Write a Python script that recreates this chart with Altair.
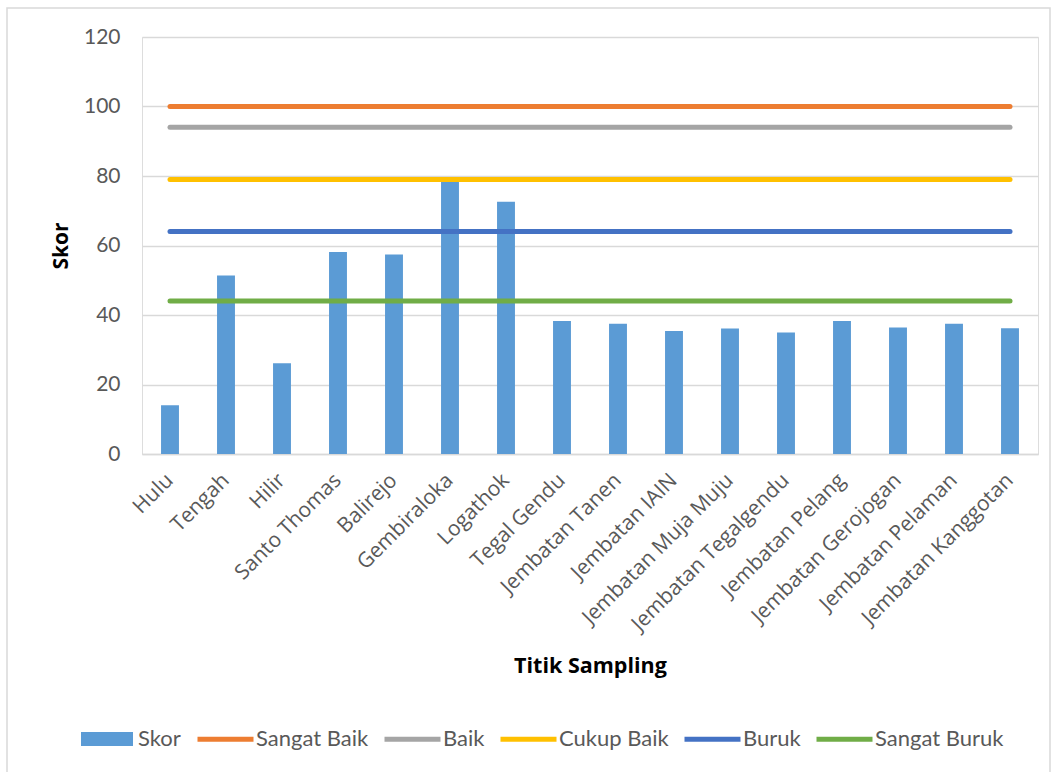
import altair as alt
import pandas as pd

# Sampling points along the river and their index scores
categories = [
    "Hulu", "Tengah", "Hilir", "Santo Thomas", "Balirejo", "Gembiraloka",
    "Logathok", "Tegal Gendu", "Jembatan Tanen", "Jembatan IAIN",
    "Jembatan Muja Muju", "Jembatan Tegalgendu", "Jembatan Pelang",
    "Jembatan Gerojogan", "Jembatan Pelaman", "Jembatan Kanggotan",
]
skor = [14.0, 51.4, 26.1, 58.1, 57.4, 78.5, 72.6, 38.3,
        37.5, 35.4, 36.1, 35.0, 38.3, 36.4, 37.5, 36.2]

# Quality class thresholds drawn as horizontal reference lines
class_names = ["Sangat Baik", "Baik", "Cukup Baik", "Buruk", "Sangat Buruk"]
class_limits = [100, 94, 79, 64, 44]
class_colors = ["#ED7D31", "#A5A5A5", "#FFC000", "#4472C4", "#70AD47"]
bar_color = "#5B9BD5"

y_ticks = [0, 20, 40, 60, 80, 100, 120]

W, H = 896, 417
PAD_L, PAD_T = 142, 37

bars_df = pd.DataFrame({"titik": categories, "nilai": skor, "seri": "Skor"})
lines_df = pd.DataFrame(
    [{"titik": c, "nilai": v, "kelas": n}
     for n, v in zip(class_names, class_limits) for c in categories]
)

x_enc = alt.X(
    "titik:N",
    sort=categories,
    scale=alt.Scale(domain=categories, paddingInner=0.68, paddingOuter=0.34),
    axis=alt.Axis(
        title="Titik Sampling",
        labelAngle=315,
        labelAlign="right",
        labelBaseline="middle",
        labelFont="Open Sans",
        labelFontSize=21,
        labelColor="#595959",
        labelPadding=23,
        labelLimit=400,
        labelOverlap=False,
        ticks=False,
        domainColor="#D9D9D9",
        domainWidth=1.5,
        grid=False,
        titleFont="Open Sans",
        titleFontSize=21.5,
        titleFontWeight="bold",
        titleColor="#000000",
        titleY=218,
        titleBaseline="alphabetic",
    ),
)

y_enc = alt.Y(
    "nilai:Q",
    scale=alt.Scale(domain=[0, 120], nice=False),
    axis=alt.Axis(
        title="Skor",
        values=y_ticks,
        labelFont="Lato",
        labelFontSize=21,
        labelColor="#595959",
        labelPadding=22,
        ticks=False,
        domain=False,
        grid=True,
        gridColor="#D9D9D9",
        gridWidth=1.5,
        titleFont="Open Sans",
        titleFontSize=21,
        titleFontWeight="bold",
        titleColor="#000000",
        titleX=-75,
        titleBaseline="alphabetic",
    ),
)

legend_text = dict(labelFont="Lato", labelFontSize=22, labelColor="#595959")

bars = alt.Chart(bars_df).mark_bar().encode(
    x=x_enc,
    y=y_enc,
    fill=alt.Fill(
        "seri:N",
        scale=alt.Scale(domain=["Skor"], range=[bar_color]),
        legend=alt.Legend(
            title=None,
            orient="none",
            legendX=-61,
            legendY=676,
            symbolType="M-1,-0.27H1V0.27H-1Z",
            symbolSize=2704,
            symbolStrokeWidth=0,
            labelOffset=5,
            **legend_text,
        ),
    ),
)

lines = alt.Chart(lines_df).mark_line(strokeWidth=5, strokeCap="round").encode(
    x=alt.X("titik:N", sort=categories),
    y=alt.Y("nilai:Q"),
    stroke=alt.Stroke(
        "kelas:N",
        scale=alt.Scale(domain=class_names, range=class_colors),
        sort=class_names,
        legend=alt.Legend(
            title=None,
            orient="none",
            direction="horizontal",
            legendX=53,
            legendY=671.5,
            symbolType="stroke",
            symbolSize=3136,
            symbolStrokeWidth=5,
            labelOffset=0,
            columnPadding=5,
            **legend_text,
        ),
    ),
)

# Outer frame around the whole chart
frame = alt.Chart(pd.DataFrame({"k": [0]})).mark_rect(
    fillOpacity=0, stroke="#D9D9D9", strokeWidth=1.5
).encode(
    x=alt.value(7 - PAD_L),
    x2=alt.value(1050 - PAD_L),
    y=alt.value(8 - PAD_T),
    y2=alt.value(800 - PAD_T),
)

chart = alt.layer(frame, bars, lines).resolve_scale(
    fill="independent", stroke="independent"
).properties(
    width=W,
    height=H,
    autosize=alt.AutoSizeParams(type="none"),
    padding={"left": PAD_L, "top": PAD_T, "right": 1057 - PAD_L - W, "bottom": 772 - PAD_T - H},
).configure_view(stroke=None).configure(background="white")

chart.save("out.html", embed_options={"renderer": "svg", "actions": False})
